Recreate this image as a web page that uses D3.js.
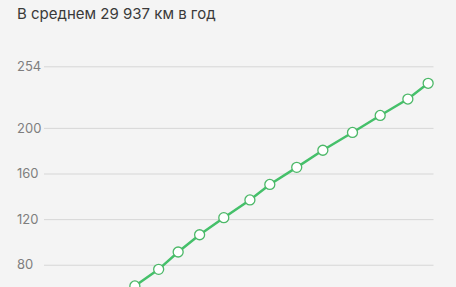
<!DOCTYPE html>
<html>
<head>
<meta charset="utf-8">
<script src="https://cdn.jsdelivr.net/npm/d3@7"></script>
<style>
  html, body { margin: 0; padding: 0; background: #f4f4f4; overflow: hidden; }
  svg { display: block; font-family: Inter, "Noto Sans", sans-serif; }
</style>
</head>
<body>
<div id="chart"></div>
<script>
const titleText = "В среднем 29 937 км в год";
// x positions of observations (relative time units)
const xValues = [23.3, 29.4, 34.4, 39.9, 46.1, 52.8, 57.9, 64.8, 71.5, 79.1, 86.2, 93.3, 98.5];
// values (thousand km)
const yValues = [61.4, 76.0, 91.2, 106.3, 121.3, 136.8, 150.4, 165.4, 180.4, 196.0, 210.9, 225.3, 239.1];
const tickValues = [80, 120, 160, 200, 254];

const W = 456, H = 287;
const svg = d3.select("#chart").append("svg").attr("width", W).attr("height", H);
svg.append("rect").attr("width", W).attr("height", H).attr("fill", "#f4f4f4");

const x = d3.scaleLinear().domain([0, 100]).range([44, 434]);
const y = d3.scaleLinear().domain([0, 254]).range([356, 66.3]);

svg.append("text")
  .attr("x", 17).attr("y", 19)
  .attr("fill", "#3a3a3a")
  .attr("font-size", 15)
  .text(titleText);

const yAxis = d3.axisLeft(y).tickValues(tickValues).tickSize(0).tickPadding(0).tickFormat(d3.format("d"));
const gAxis = svg.append("g").attr("transform", "translate(44,0)").call(yAxis);
gAxis.select(".domain").remove();
gAxis.selectAll(".tick text")
  .attr("x", -27).attr("text-anchor", "start")
  .attr("fill", "#7e7e7e").attr("font-size", 13)
  .attr("font-family", "Inter, 'Noto Sans', sans-serif");
gAxis.selectAll(".tick line").remove();
gAxis.selectAll(".tick").append("line")
  .attr("x1", 0).attr("x2", 433.5 - 44)
  .attr("stroke", "#d6d6d6").attr("stroke-width", 1);

const data = xValues.map((d, i) => ({x: d, y: yValues[i]}));
const line = d3.line().x(d => x(d.x)).y(d => y(d.y));
svg.append("path").datum(data)
  .attr("d", line)
  .attr("fill", "none")
  .attr("stroke", "#45c06a")
  .attr("stroke-width", 2.5);

svg.selectAll("circle.pt").data(data).enter().append("circle")
  .attr("class", "pt")
  .attr("cx", d => x(d.x)).attr("cy", d => y(d.y))
  .attr("r", 5)
  .attr("fill", "#ffffff")
  .attr("stroke", "#4cb868")
  .attr("stroke-width", 1.3);
</script>
</body>
</html>
